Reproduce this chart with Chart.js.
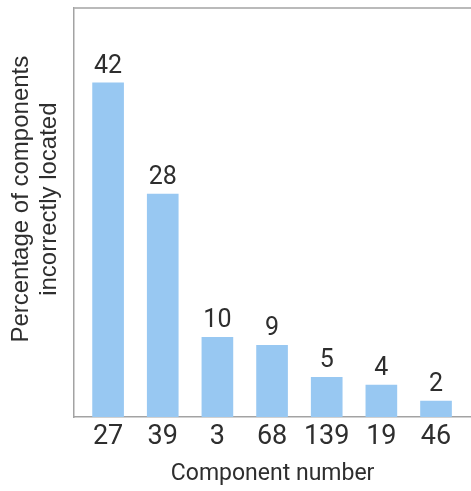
<!DOCTYPE html>
<html>
<head>
<meta charset="utf-8">
<script src="https://cdn.jsdelivr.net/npm/chart.js@4"></script>
<style>
  html, body { margin: 0; padding: 0; background: #fff; }
  #wrap { width: 471px; height: 491px; }
</style>
</head>
<body>
<div id="wrap"><canvas id="c" width="471" height="491"></canvas></div>
<script>
// data
const components = ['27', '39', '3', '68', '139', '19', '46'];
const percentIncorrect = [42, 28, 10, 9, 5, 4, 2];

const axisGrey = '#a3a3a3';
const textCol = '#2e2e2e';

// top frame line + value above each bar
const barLabels = {
  id: 'barLabels',
  afterDatasetsDraw(chart) {
    const ctx = chart.ctx;
    const area = chart.chartArea;
    const meta = chart.getDatasetMeta(0);
    ctx.save();
    ctx.strokeStyle = axisGrey;
    ctx.lineWidth = 1.5;
    ctx.beginPath();
    ctx.moveTo(area.left, area.top);
    ctx.lineTo(chart.width, area.top);
    ctx.stroke();
    ctx.font = '25px Roboto';
    ctx.fillStyle = textCol;
    ctx.textAlign = 'center';
    ctx.textBaseline = 'alphabetic';
    meta.data.forEach(function(bar, i) {
      ctx.fillText(String(percentIncorrect[i]), bar.x, bar.y - 10);
    });
    ctx.restore();
  }
};

new Chart(document.getElementById('c'), {
  type: 'bar',
  data: {
    datasets: [{
      data: percentIncorrect.map(function(v, i) { return { x: i, y: v }; }),
      backgroundColor: '#98c8f2',
      barThickness: 31
    }]
  },
  options: {
    responsive: false,
    animation: false,
    layout: { padding: { left: 3, top: 8, right: 0, bottom: 0 } },
    plugins: { legend: { display: false }, tooltip: { enabled: false } },
    scales: {
      x: {
        type: 'linear',
        offset: false,
        min: -0.62,
        max: 6.64,
        grid: { display: false, drawTicks: false },
        border: { display: true, color: axisGrey, width: 1.5 },
        ticks: {
          stepSize: 1,
          includeBounds: false,
          autoSkip: false,
          maxRotation: 0,
          padding: 4,
          color: textCol,
          font: { family: 'Roboto', size: 27 },
          callback: function(v) { return Number.isInteger(v) ? components[v] : ''; }
        },
        title: {
          display: true,
          text: 'Component number',
          color: textCol,
          font: { family: 'Roboto', size: 23 },
          padding: { top: 3, bottom: 3 }
        }
      },
      y: {
        min: 0,
        max: 51.4,
        grid: { display: false, drawTicks: false },
        border: { display: true, color: axisGrey, width: 1.5 },
        ticks: { display: false },
        title: {
          display: true,
          text: ['    Percentage of components', '    incorrectly located'],
          color: textCol,
          font: { family: 'Liberation Sans', size: 24, lineHeight: 1.15 },
          padding: { top: 5, bottom: 11 }
        }
      }
    }
  },
  plugins: [barLabels]
});
</script>
</body>
</html>
